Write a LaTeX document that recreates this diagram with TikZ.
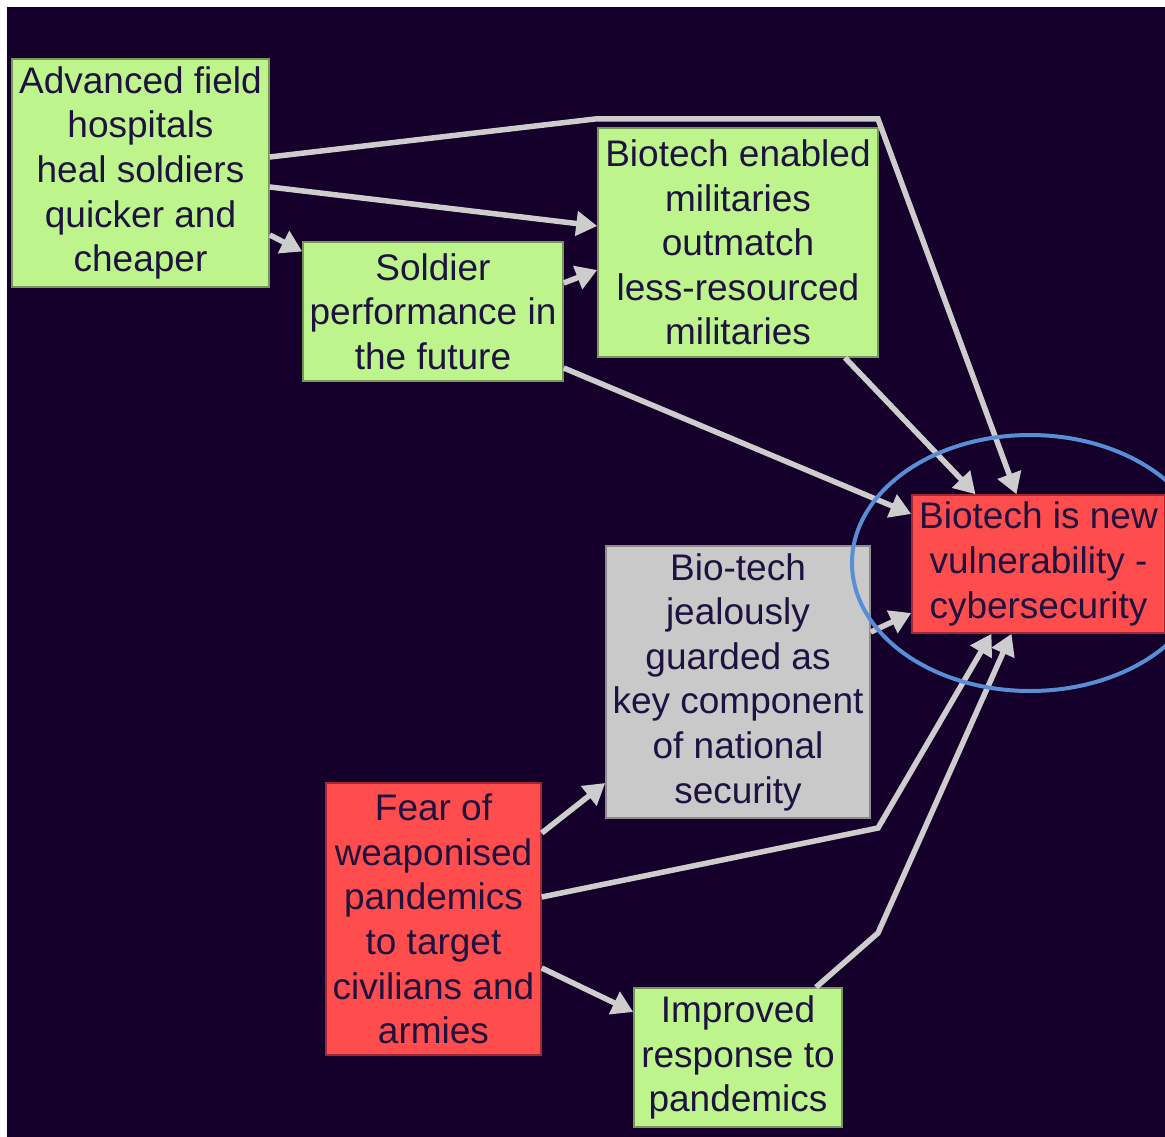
\documentclass[tikz,border=0pt]{standalone}
\usepackage{fontspec}
\setmainfont{Liberation Sans}
\usetikzlibrary{arrows.meta}
\definecolor{bgc}{RGB}{20,0,42}
\definecolor{txt}{RGB}{30,18,64}
\definecolor{gfill}{RGB}{190,244,140}
\definecolor{gline}{RGB}{120,150,90}
\definecolor{rfill}{RGB}{255,76,76}
\definecolor{rline}{RGB}{160,40,50}
\definecolor{yfill}{RGB}{201,201,201}
\definecolor{yline}{RGB}{140,140,140}
\definecolor{arr}{RGB}{205,205,205}
\definecolor{ell}{RGB}{88,142,214}
\tikzset{
  box/.style={rectangle, inner sep=0pt, align=center, text=txt, line width=1.5pt,
    font=\fontsize{37}{44.6}\selectfont},
  gbox/.style={box, fill=gfill, draw=gline},
  rbox/.style={box, fill=rfill, draw=rline},
  ybox/.style={box, fill=yfill, draw=yline},
  link/.style={draw=arr, line width=5.5pt, -{Triangle[width=24pt,length=21pt]}, line join=miter},
}
\begin{document}
\begin{tikzpicture}[x=1pt,y=-1pt]
\useasboundingbox (0,0) rectangle (1165,1137);
\fill[white] (0,0) rectangle (1165,1137);
\fill[bgc] (7,7) rectangle (1165,1137);

\node[gbox, minimum width=257pt, minimum height=228pt] (A) at (140.5,173)
  {Advanced field\\hospitals\\heal soldiers\\quicker and\\cheaper};
\node[gbox, minimum width=280pt, minimum height=229pt] (B) at (738,242.5)
  {Biotech enabled\\militaries\\outmatch\\less-resourced\\militaries};
\node[gbox, minimum width=260pt, minimum height=139pt] (S) at (433,311.5)
  {Soldier\\performance in\\the future};
\node[rbox, minimum width=253pt, minimum height=138pt] (V) at (1038.5,564)
  {Biotech is new\\vulnerability -\\cybersecurity};
\node[ybox, minimum width=264pt, minimum height=272pt] (G) at (738,682)
  {Bio-tech\\jealously\\guarded as\\key component\\of national\\security};
\node[rbox, minimum width=215pt, minimum height=272pt] (F) at (433.5,919)
  {Fear of\\weaponised\\pandemics\\to target\\civilians and\\armies};
\node[gbox, minimum width=208pt, minimum height=139pt] (I) at (738,1057.5)
  {Improved\\response to\\pandemics};

\coordinate (a1) at (595,119);
\coordinate (a2) at (878,119);
\coordinate (f1) at (878,828);
\coordinate (i1) at (878,933);

\draw[link] ([yshift=16pt]A.east) -- (a1) -- (a2) -- ([xshift=-22pt]V.north);
\draw[link] ([yshift=-14pt]A.east) -- ([yshift=16.5pt]B.west);
\draw[link] ([yshift=-62pt]A.east) -- ([yshift=60pt]S.west);
\draw[link] ([yshift=28.5pt]S.east) -- ([yshift=-27.5pt]B.west);
\draw[link] ([yshift=-56.5pt]S.east) -- ([yshift=50pt]V.west);
\draw[link] ([xshift=107pt]B.south) -- ([xshift=-63pt]V.north);
\draw[link] ([yshift=50pt]G.east) -- ([yshift=-49pt]V.west);
\draw[link] ([yshift=86pt]F.east) -- ([yshift=-101pt]G.west);
\draw[link] ([yshift=22pt]F.east) -- (f1) -- ([xshift=-47pt]V.south);
\draw[link] ([xshift=78pt]I.north) -- (i1) -- ([xshift=-27pt]V.south);
\draw[link] ([yshift=-49pt]F.east) -- ([yshift=45.5pt]I.west);

\draw[ell, line width=4pt] (1030,563) ellipse [x radius=178pt, y radius=128pt];
\end{tikzpicture}
\end{document}
